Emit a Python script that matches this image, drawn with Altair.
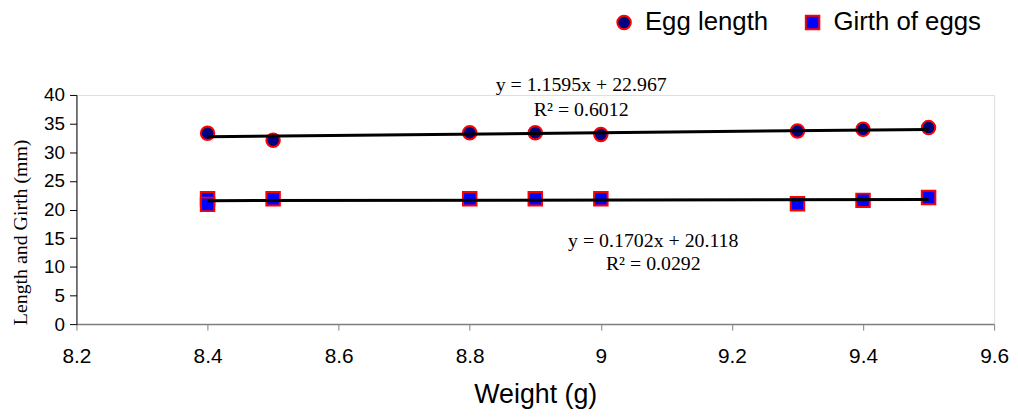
import altair as alt
import pandas as pd

# ---- data ----
weight_egg = [8.4, 8.5, 8.8, 8.9, 9.0, 9.3, 9.4, 9.5]
egg_length = [33.3, 32.1, 33.4, 33.4, 33.1, 33.7, 34.0, 34.3]

weight_girth = [8.4, 8.4, 8.5, 8.8, 8.9, 9.0, 9.3, 9.4, 9.5]
girth_eggs = [21.9, 20.9, 21.9, 21.9, 21.9, 21.9, 21.0, 21.6, 22.1]

series_names = ["Egg length", "Girth of eggs"]
trend_slope = [1.1595, 0.1702]
trend_intercept = [22.967, 20.118]
trend_x_range = [8.4, 9.5]

eq_text = ["y = 1.1595x + 22.967", "R\u00b2 = 0.6012",
           "y = 0.1702x + 20.118", "R\u00b2 = 0.0292"]
eq_x = [8.97, 8.97, 9.08, 9.08]
eq_y = [40.7, 36.4, 13.5, 9.5]

x_ticks = [8.2, 8.4, 8.6, 8.8, 9.0, 9.2, 9.4, 9.6]
y_ticks = [0, 5, 10, 15, 20, 25, 30, 35, 40]

# ---- tables ----
pts = pd.DataFrame(
    {"weight": weight_egg + weight_girth,
     "value": egg_length + girth_eggs,
     "series": [series_names[0]] * len(weight_egg) + [series_names[1]] * len(weight_girth)}
)

trend_rows = []
for name, m, b in zip(series_names, trend_slope, trend_intercept):
    for xv in trend_x_range:
        trend_rows.append({"weight": xv, "value": m * xv + b, "series": name})
trend = pd.DataFrame(trend_rows)

ann = pd.DataFrame({"x": eq_x, "y": eq_y, "text": eq_text})

xscale = alt.Scale(domain=[8.2, 9.6], nice=False, zero=False)
yscale = alt.Scale(domain=[0, 40], nice=False, zero=True)

xaxis = alt.Axis(
    values=x_ticks, format=".1~f", grid=False, title="Weight (g)",
    labelFont="Liberation Sans", labelFontSize=21, labelColor="black",
    labelPadding=16, tickSize=6, tickColor="#808080", domainColor="#808080",
    domainWidth=1.5, titleFont="Liberation Sans", titleFontSize=27,
    titleFontWeight="normal", titleColor="black", titlePadding=15,
    labelOverlap=False, labelFlush=False,
)
yaxis = alt.Axis(
    values=y_ticks, grid=False, title="Length and Girth (mm)",
    labelFont="Liberation Sans", labelFontSize=19, labelColor="black",
    labelPadding=5, tickSize=7, tickColor="black", domainColor="black",
    titleFont="Liberation Serif", titleFontSize=20, titleFontWeight="normal",
    titleColor="black", titlePadding=13, titleY=138, labelOverlap=False,
    labelFlush=False,
)

points = alt.Chart(pts).mark_point(filled=True, stroke="red", strokeWidth=2, size=185, opacity=1).encode(
    x=alt.X("weight:Q", scale=xscale, axis=xaxis),
    y=alt.Y("value:Q", scale=yscale, axis=yaxis),
    color=alt.Color(
        "series:N",
        scale=alt.Scale(domain=series_names, range=["#000080", "#0000FF"]),
        legend=alt.Legend(
            title=None, orient="none", legendX=539, legendY=-86, direction="horizontal",
            symbolSize=185, symbolStrokeColor="red", symbolStrokeWidth=2,
            labelFont="Liberation Sans", labelFontSize=26, labelColor="black",
            labelOffset=8, columnPadding=31, symbolOpacity=1,
        ),
    ),
    shape=alt.Shape(
        "series:N",
        scale=alt.Scale(domain=series_names, range=["circle", "square"]),
        legend=None,
    ),
)

lines = alt.Chart(trend).mark_line(color="black", strokeWidth=3).encode(
    x=alt.X("weight:Q", scale=xscale, axis=xaxis),
    y=alt.Y("value:Q", scale=yscale, axis=yaxis),
    detail="series:N",
)

texts = alt.Chart(ann).mark_text(
    font="Liberation Serif", fontSize=20, align="center", baseline="alphabetic", color="black"
).encode(
    x=alt.X("x:Q", scale=xscale, axis=xaxis),
    y=alt.Y("y:Q", scale=yscale, axis=yaxis),
    text="text:N",
)

chart = alt.layer(points, lines, texts).properties(
    width=925, height=231,
    autosize=alt.AutoSizeParams(type="none"),
    padding={"left": 69, "top": 86, "right": 16, "bottom": 94},
).configure_view(stroke=None).configure(background="white")

chart.save("out.html", embed_options={"renderer": "svg", "actions": False})
